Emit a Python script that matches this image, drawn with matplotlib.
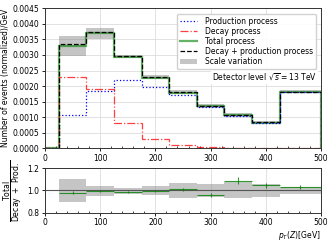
import numpy as np
import matplotlib
matplotlib.use("Agg")
import matplotlib.pyplot as plt
from matplotlib.ticker import AutoMinorLocator, MultipleLocator
from matplotlib.lines import Line2D
from matplotlib.patches import Patch

# bin edges (first bin 0-25 empty)
edges = [0, 25, 75, 125, 175, 225, 275, 325, 375, 425, 500]
production = [0, 0.00107, 0.00185, 0.00219, 0.00198, 0.00171, 0.00134, 0.00105, 0.00082, 0.00181]
decay = [0, 0.00228, 0.00189, 0.00081, 0.00029, 0.00010, 0.00003, 0.00001, 0.00001, 0.00001]
total = [0, 0.00330, 0.00371, 0.00293, 0.00226, 0.00179, 0.00136, 0.00107, 0.00082, 0.00182]
decay_plus_prod = [0, 0.00335, 0.00373, 0.00296, 0.00228, 0.00181, 0.00137, 0.00106, 0.00083, 0.00182]
scale_lo = [0, 0.00298, 0.00350, 0.00289, 0.00222, 0.00175, 0.00131, 0.00101, 0.00079, 0.00178]
scale_hi = [0, 0.00361, 0.00386, 0.00300, 0.00236, 0.00187, 0.00142, 0.00113, 0.00087, 0.00187]

# ratio panel (bins 25-500)
ratio = [0.98, 0.997, 0.984, 0.998, 1.01, 0.957, 1.088, 1.047, 1.03]
ratio_err = [0.012, 0.008, 0.008, 0.010, 0.015, 0.018, 0.030, 0.025, 0.015]
ratio_band_lo = [0.90, 0.953, 0.966, 0.955, 0.93, 0.945, 0.93, 0.945, 0.97]
ratio_band_hi = [1.103, 1.04, 1.02, 1.043, 1.07, 1.055, 1.075, 1.055, 1.03]

fs = 5.5
plt.rcParams['font.size'] = fs
fig = plt.figure(figsize=(3.32, 2.45), dpi=100)
ax = fig.add_axes([0.1355, 0.395, 0.8315, 0.571])
rax = fig.add_axes([0.1355, 0.132, 0.8315, 0.181])

e = np.array(edges, dtype=float)
ax.stairs(scale_hi[1:], e[1:], baseline=scale_lo[1:], fill=True, color='gray', alpha=0.45, lw=0, zorder=1)
ax.stairs(production, e, color='blue', ls=':', lw=0.9, zorder=3)
ax.stairs(decay, e, color='red', ls='-.', lw=0.9, alpha=0.75, zorder=3)
ax.stairs(total, e, color='green', lw=1.6, alpha=0.6, zorder=2)
ax.stairs(decay_plus_prod, e, color='black', ls='--', lw=0.9, zorder=4)

ax.set_xlim(0, 500)
ax.set_ylim(0, 0.0045)
ax.yaxis.set_major_locator(MultipleLocator(0.0005))
ax.yaxis.set_major_formatter(matplotlib.ticker.FormatStrFormatter('%.4f'))
ax.xaxis.set_minor_locator(AutoMinorLocator(5))
ax.grid(True, color='#dddddd', lw=0.6)
ax.set_axisbelow(True)
ax.set_ylabel('Number of events (normalized)/GeV', fontsize=fs, labelpad=2)
ax.tick_params(labelsize=fs, length=2.5, pad=1.5, width=0.6)
ax.tick_params(which='minor', length=1.5, direction='in', width=0.5)

handles = [
    Line2D([], [], color='blue', ls=':', lw=0.9),
    Line2D([], [], color='red', ls='-.', lw=0.9, alpha=0.75),
    Line2D([], [], color='green', lw=1.6, alpha=0.6),
    Line2D([], [], color='black', ls='--', lw=0.9),
    Patch(facecolor='gray', alpha=0.45, lw=0),
]
labels = ['Production process', 'Decay process', 'Total process',
          'Decay + production process', 'Scale variation']
ax.legend(handles, labels, loc='upper right', fontsize=fs, frameon=True,
          borderpad=0.4, labelspacing=0.15, handlelength=2.2, handletextpad=1.0,
          bbox_to_anchor=(0.995, 0.99), framealpha=0.9, edgecolor='#cccccc')
ax.text(0.985, 0.51, r'Detector level $\sqrt{s}=13$ TeV', transform=ax.transAxes,
        ha='right', va='center', fontsize=fs,
        bbox=dict(facecolor='white', edgecolor='none', pad=1.0), zorder=5)

# ratio panel
eb = e[1:]
rax.stairs(ratio_band_hi, eb, baseline=ratio_band_lo, fill=True, color='gray', alpha=0.45, lw=0, zorder=1)
rax.axhline(1.0, color='#555555', lw=0.8, zorder=2)
centers = 0.5 * (eb[:-1] + eb[1:])
halfw = 0.5 * np.diff(eb)
rax.errorbar(centers, ratio, xerr=halfw, yerr=ratio_err, fmt='none', ecolor='green',
             elinewidth=0.8, alpha=0.8, zorder=3)
rax.set_xlim(0, 500)
rax.set_ylim(0.8, 1.2)
rax.set_yticks([0.8, 1.0, 1.2])
rax.xaxis.set_minor_locator(AutoMinorLocator(5))
rax.grid(True, color='#dddddd', lw=0.6)
rax.set_axisbelow(True)
rax.tick_params(labelsize=fs, length=2.5, pad=1.5, width=0.6)
rax.tick_params(which='minor', length=1.5, direction='in', width=0.5)
rax.set_ylabel(r'$\frac{\mathrm{Total}}{\mathrm{Decay\ +\ Prod.}}$', fontsize=fs + 2.5, labelpad=1)
rax.set_xlabel(r'$p_T(Z)$[GeV]', fontsize=fs, loc='right', labelpad=1)

for a in (ax, rax):
    for s in a.spines.values():
        s.set_color('#333333')
        s.set_linewidth(0.7)

fig.savefig('out.png', dpi=100)
